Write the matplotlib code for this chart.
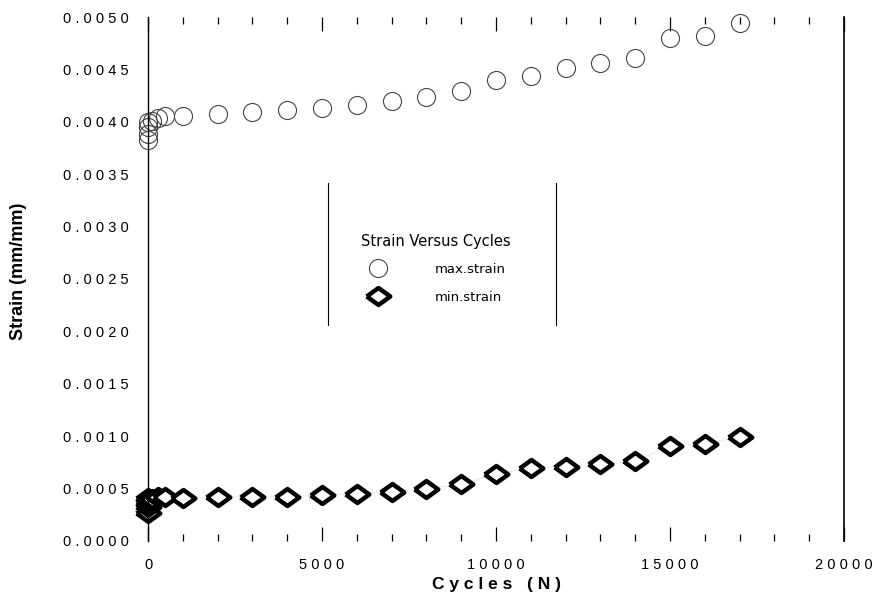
import matplotlib.pyplot as plt
import numpy as np
from matplotlib.ticker import MultipleLocator, FuncFormatter

plt.rcParams['font.family'] = ['Liberation Sans', 'DejaVu Sans']

# max strain (open circles)
cycles_max = [0, 0, 0, 0, 100, 300, 500, 1000, 2000, 3000, 4000, 5000, 6000, 7000,
              8000, 9000, 10000, 11000, 12000, 13000, 14000, 15000, 16000, 17000]
strain_max = [0.00383, 0.00388, 0.00395, 0.00400, 0.00401, 0.00404, 0.00406, 0.00406,
              0.00407, 0.00409, 0.00411, 0.00413, 0.00416, 0.00420, 0.00424, 0.00429,
              0.00440, 0.00444, 0.00451, 0.00456, 0.00461, 0.00480, 0.00482, 0.00494]

# min strain (diamonds)
cycles_min = [0, 0, 0, 0, 100, 300, 500, 1000, 2000, 3000, 4000, 5000, 6000, 7000,
              8000, 9000, 10000, 11000, 12000, 13000, 14000, 15000, 16000, 17000]
strain_min = [0.00027, 0.00032, 0.00037, 0.00041, 0.00040, 0.00042, 0.00042, 0.00041,
              0.00042, 0.00042, 0.00042, 0.00044, 0.00045, 0.00047, 0.00050, 0.00054,
              0.00064, 0.00070, 0.00071, 0.00073, 0.00076, 0.00091, 0.00093, 0.00099]


def spaced(s):
    # wide letter spacing like the scanned original
    return ' '.join(s)


fig = plt.figure(figsize=(8.78, 5.95), dpi=100)
ax = fig.add_axes([0.1686, 0.0908, 0.7927, 0.8806])

# flattened diamond marker
diamond = [(-1, 0), (0, 0.72), (1, 0), (0, -0.72), (-1, 0)]

ax.plot(cycles_max, strain_max, linestyle='none', marker='o', markersize=13,
        markerfacecolor='none', markeredgecolor='#444444', markeredgewidth=0.8,
        clip_on=False, label='max.strain')
ax.plot(cycles_min[4:], strain_min[4:], linestyle=':', color='#bbbbbb', linewidth=0.6)
ax.plot(cycles_min, strain_min, linestyle='none', marker=diamond, markersize=17,
        markerfacecolor='white', markeredgecolor='black', markeredgewidth=3.2,
        clip_on=False, label='min.strain')

ax.set_xlim(0, 20000)
ax.set_ylim(0, 0.005)
ax.xaxis.set_major_locator(MultipleLocator(5000))
ax.xaxis.set_minor_locator(MultipleLocator(1000))
ax.yaxis.set_major_locator(MultipleLocator(0.0005))
ax.xaxis.set_major_formatter(FuncFormatter(lambda v, p: spaced('%d' % v)))
ax.yaxis.set_major_formatter(FuncFormatter(lambda v, p: spaced('%.4f' % v)))

ax.tick_params(axis='x', which='major', direction='in', length=10, width=0.9,
               top=True, labelsize=10.5, pad=12)
ax.tick_params(axis='x', which='minor', direction='in', length=5, width=0.9, top=True)
ax.tick_params(axis='y', which='both', length=0, labelsize=10.5, pad=14)

ax.spines['top'].set_visible(False)
ax.spines['bottom'].set_visible(False)
ax.spines['left'].set_linewidth(1.0)
ax.spines['right'].set_linewidth(1.2)

ax.set_xlabel('C y c l e s   ( N )', fontsize=12.5, fontweight='bold')
ax.xaxis.set_label_coords(0.501, -0.068)
ax.set_ylabel('Strain (mm/mm)', fontsize=13, fontweight='bold')
ax.yaxis.set_label_coords(-0.174, 0.515)

leg = ax.legend(loc='center', bbox_to_anchor=(0.413, 0.52), frameon=False,
                title='Strain Versus Cycles', handletextpad=3.3, borderpad=1.2,
                labelspacing=1.1, prop={'family': 'DejaVu Sans', 'size': 9.5})
leg.get_title().set_fontfamily('DejaVu Sans')
leg.get_title().set_fontsize(10.5)
# legend box: only the side edges show
for xf in (0.259, 0.586):
    ax.plot([xf, xf], [0.412, 0.683], transform=ax.transAxes, color='black',
            linewidth=0.8)

fig.savefig('out.png', dpi=100)
